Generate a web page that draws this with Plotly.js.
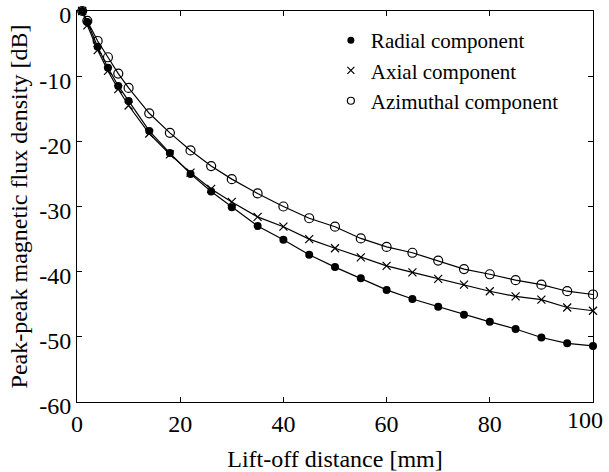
<!DOCTYPE html>
<html>
<head>
<meta charset="utf-8">
<script src="https://cdn.plot.ly/plotly-3.0.1.min.js"></script>
<style>html,body{margin:0;padding:0;background:#fff;}#chart{width:609px;height:472px;}</style>
</head>
<body>
<div id="chart"></div>
<script>
const liftOff = [1, 2, 4, 6, 8, 10, 14, 18, 22, 26, 30, 35, 40, 45, 50, 55, 60, 65, 70, 75, 80, 85, 90, 95, 100];
const radial = [0, -1.7, -5.5, -8.7, -11.5, -13.8, -18.4, -21.8, -25.0, -27.7, -30.1, -33.0, -35.1, -37.4, -39.3, -41.0, -42.8, -44.2, -45.4, -46.6, -47.7, -48.8, -50.1, -51.0, -51.4];
const axial = [0, -2.2, -6.0, -9.2, -12.0, -14.5, -18.8, -22.0, -24.8, -27.3, -29.3, -31.6, -33.1, -35.0, -36.4, -37.8, -39.1, -40.1, -41.1, -42.0, -43.0, -43.8, -44.3, -45.5, -46.0];
const azimuthal = [0, -1.5, -4.6, -7.1, -9.6, -11.8, -15.7, -18.7, -21.4, -23.8, -25.8, -28.0, -30.0, -31.8, -33.1, -34.9, -36.2, -37.1, -38.3, -39.6, -40.4, -41.3, -42.0, -43.0, -43.5];
const seriesNames = ['Radial component', 'Axial component', 'Azimuthal component'];
const xTickVals = [0, 20, 40, 60, 80, 100];
const xTickText = ['0', '20', '40', '60', '80', '100'];
const yTickVals = [0, -10, -20, -30, -40, -50, -60];
const yTickText = ['0', '-10', '-20', '-30', '-40', '-50', '-60'];

const FONT = 'Liberation Serif, Times New Roman, serif';
const TICKFONT = {family: FONT, size: 24, color: '#000'};
const markerDefs = [
  {symbol: 'circle', size: 8, color: '#000', line: {width: 0}},
  {symbol: 'x-thin-open', size: 8, color: '#000', line: {width: 1.2, color: '#000'}},
  {symbol: 'circle-open', size: 9, color: '#000', line: {width: 1.2, color: '#000'}}
];
const legendMarkers = [
  {symbol: 'circle', size: 7, color: '#000', line: {width: 0}},
  {symbol: 'x-thin-open', size: 7, color: '#000', line: {width: 1.2, color: '#000'}},
  {symbol: 'circle-open', size: 7, color: '#000', line: {width: 1.2, color: '#000'}}
];
const ys = [radial, axial, azimuthal];
const traces = [];
ys.forEach((y, i) => {
  traces.push({x: liftOff, y: y, mode: 'lines+markers', type: 'scatter', showlegend: false, cliponaxis: false,
    line: {color: '#000', width: 1.2}, marker: markerDefs[i], name: seriesNames[i]});
});
ys.forEach((y, i) => {
  traces.push({x: [null], y: [null], mode: 'markers', type: 'scatter', showlegend: true,
    marker: legendMarkers[i], name: seriesNames[i]});
});

// last x tick label is drawn as an annotation nudged inward so it stays inside the picture
const lastIdx = xTickText.length - 1;
const xTickTextDrawn = xTickText.map((t, i) => i === lastIdx ? '' : t);

const axisCommon = {
  showgrid: false, zeroline: false, showline: true, linecolor: '#000', linewidth: 1,
  mirror: 'ticks', ticks: 'inside', ticklen: 5, tickwidth: 1, tickcolor: '#000',
  ticklabeloverflow: 'allow',
  tickfont: TICKFONT
};
const layout = {
  width: 609, height: 472,
  margin: {l: 77, r: 16, t: 11, b: 70},
  paper_bgcolor: '#fff', plot_bgcolor: '#fff',
  font: {family: FONT, color: '#000'},
  xaxis: Object.assign({}, axisCommon, {range: [0, 100], tickvals: xTickVals, ticktext: xTickTextDrawn,
    title: {text: 'Lift-off distance [mm]', font: {family: FONT, size: 24, color: '#000'}, standoff: 14}}),
  yaxis: Object.assign({}, axisCommon, {range: [-60, 0], tickvals: yTickVals, ticktext: yTickText,
    ticklabelshift: 4,
    title: {text: 'Peak-peak magnetic flux density [dB]', font: {family: FONT, size: 24, color: '#000'}, standoff: 4}}),
  legend: {x: 0.492, y: 0.977, xanchor: 'left', yanchor: 'top', bgcolor: 'rgba(0,0,0,0)',
    font: {family: FONT, size: 21, color: '#000'}, tracegroupgap: 0, itemwidth: 30},
  annotations: [{
    x: xTickVals[lastIdx], y: 0, xref: 'x', yref: 'paper', yanchor: 'top', xanchor: 'right',
    xshift: 12, yshift: -3, showarrow: false, text: xTickText[lastIdx], font: TICKFONT
  }],
  showlegend: true
};
Plotly.newPlot('chart', traces, layout, {displayModeBar: false, staticPlot: true});
</script>
</body>
</html>
